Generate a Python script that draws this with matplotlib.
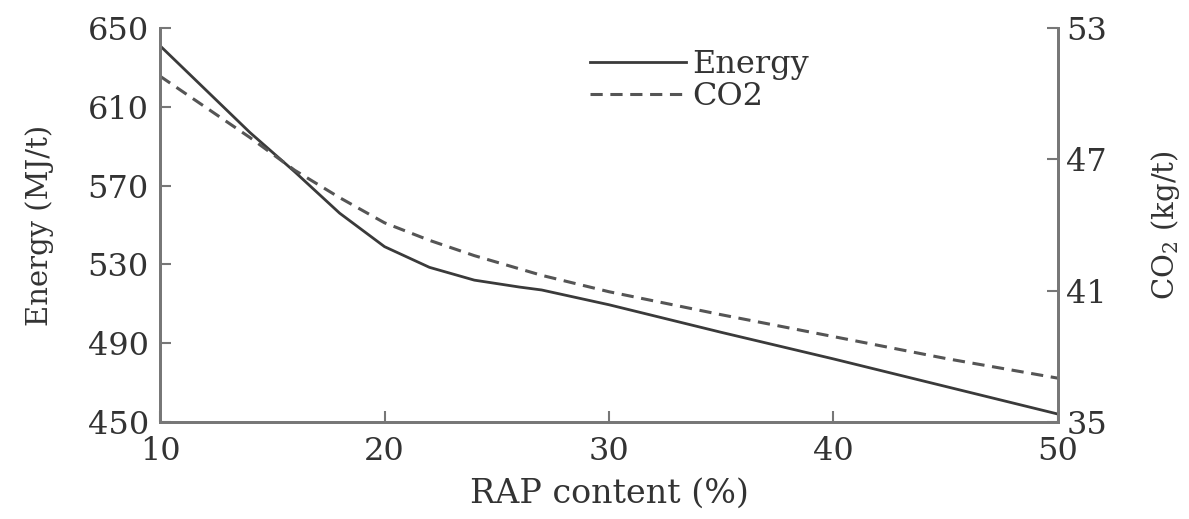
import matplotlib.pyplot as plt

rap = [10, 12, 14, 16, 18, 20, 22, 24, 26, 27, 28, 30, 35, 40, 45, 50]
energy = [641, 619, 597, 577, 556, 539, 528.5, 522, 518.5, 517, 514.5, 509.5, 495.5, 482, 468, 454]
co2 = [50.8, 49.4, 48.0, 46.5, 45.25, 44.1, 43.3, 42.6, 42.0, 41.7, 41.45, 40.95, 39.9, 38.9, 37.9, 37.0]

x_ticks = [10, 20, 30, 40, 50]
energy_ticks = [450, 490, 530, 570, 610, 650]
co2_ticks = [35, 41, 47, 53]

plt.rcParams["font.family"] = "DejaVu Serif"
plt.rcParams["mathtext.fontset"] = "dejavuserif"
plt.rcParams["font.size"] = 23
plt.rcParams["text.color"] = "#333333"
plt.rcParams["axes.labelcolor"] = "#333333"
plt.rcParams["xtick.color"] = "#777777"
plt.rcParams["ytick.color"] = "#777777"
plt.rcParams["xtick.labelcolor"] = "#333333"
plt.rcParams["ytick.labelcolor"] = "#333333"

fig = plt.figure(figsize=(11.89, 5.19), dpi=100)
ax = fig.add_axes([0.1346, 0.187, 0.7552, 0.759])
ax2 = ax.twinx()

line1, = ax.plot(rap, energy, color="#3a3a3a", lw=2.0, label="Energy")
line2, = ax2.plot(rap, co2, color="#555555", lw=2.2, ls=(0, (4, 2.5)), label="CO2")

ax.set_xlim(10, 50)
ax.set_ylim(450, 650)
ax2.set_ylim(35, 53)
ax.set_xticks(x_ticks)
ax.set_yticks(energy_ticks)
ax2.set_yticks(co2_ticks)

for a in (ax, ax2):
    a.spines["top"].set_visible(False)
    for s in ("left", "right", "bottom"):
        a.spines[s].set_color("#777777")
        a.spines[s].set_linewidth(2)
    a.tick_params(direction="in", length=8, width=1.5)

ax.tick_params(axis="x", pad=10)
ax.tick_params(axis="y", pad=8)
ax2.tick_params(axis="y", pad=6)

ax.set_xlabel("RAP content (%)", fontsize=24, labelpad=8)
ax.set_ylabel("Energy (MJ/t)", fontsize=21, labelpad=24)
ax2.set_ylabel("CO$_2$ (kg/t)", fontsize=21, rotation=90, labelpad=30)

ax.legend([line1, line2], ["Energy", "CO2"], loc="upper left",
          bbox_to_anchor=(0.447, 1.02), frameon=False, handlelength=3.0,
          handletextpad=0.2, labelspacing=0.05, fontsize=23)

fig.savefig("out.png", dpi=100)
